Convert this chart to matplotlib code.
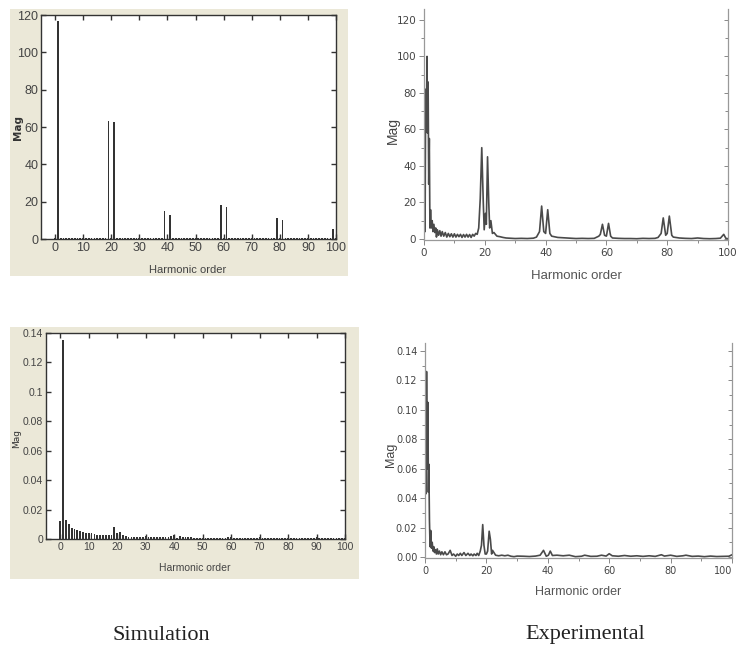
import matplotlib
matplotlib.use('Agg')
from matplotlib import pyplot as plt
from matplotlib.ticker import MultipleLocator

W, H = 737, 645
BEIGE = '#ebe8d8'
NARROW = ['Liberation Sans Narrow', 'Liberation Sans', 'DejaVu Sans']

harmonics = list(range(101))

sim_mag_top = [
    0.5, 117, 0.5, 0.5, 0.5, 0.5, 0.5, 0.5, 0.5, 0.5,
    0.5, 0.5, 0.5, 0.5, 0.5, 0.5, 0.5, 0.8, 0.5, 63,
    0.5, 62.5, 0.5, 0.5, 0.5, 0.5, 0.5, 0.5, 0.5, 0.5,
    0.5, 0.5, 0.5, 0.5, 0.5, 0.5, 0.5, 0.5, 0.5, 15,
    0.5, 13, 0.5, 0.5, 0.5, 0.5, 0.5, 0.5, 0.5, 0.5,
    0.5, 0.5, 0.5, 0.5, 0.5, 0.5, 0.5, 0.5, 0.5, 18,
    0.5, 17, 0.5, 0.5, 0.5, 0.5, 0.5, 0.5, 0.5, 0.5,
    0.5, 0.5, 0.5, 0.5, 0.5, 0.5, 0.5, 0.5, 0.5, 11,
    0.5, 10, 0.5, 0.5, 0.5, 0.5, 0.5, 0.5, 0.5, 0.5,
    0.5, 0.5, 0.5, 0.5, 0.5, 0.5, 0.5, 0.5, 0.5, 5.5,
    0.5,
]

sim_mag_bottom = [
    0.012, 0.135, 0.013, 0.0105, 0.0075, 0.0065, 0.0058, 0.0052, 0.0045, 0.004,
    0.004, 0.0038, 0.0032, 0.003, 0.003, 0.003, 0.0025, 0.0024, 0.0024, 0.008,
    0.004, 0.0045, 0.0025, 0.0018, 0.0016, 0.0015, 0.0015, 0.0015, 0.0015, 0.0015,
    0.0018, 0.0015, 0.0015, 0.0014, 0.0014, 0.0014, 0.0014, 0.0014, 0.0014, 0.002,
    0.003, 0.0006, 0.0018, 0.0016, 0.0014, 0.0012, 0.0011, 0.001, 0.001, 0.001,
    0.001, 0.001, 0.001, 0.001, 0.001, 0.001, 0.001, 0.001, 0.001, 0.0012,
    0.0016, 0.0009, 0.0009, 0.0009, 0.0009, 0.0009, 0.0009, 0.0009, 0.0009, 0.0009,
    0.0012, 0.0009, 0.0009, 0.0008, 0.0008, 0.0008, 0.0008, 0.0008, 0.0008, 0.0008,
    0.001, 0.0008, 0.0008, 0.0008, 0.0008, 0.0008, 0.0008, 0.0008, 0.0008, 0.0008,
    0.0012, 0.0008, 0.0008, 0.0008, 0.0008, 0.0008, 0.0008, 0.0008, 0.0008, 0.0008,
    0.0007,
]

exp_x_top = [
    0, 0.2, 0.35, 0.55, 0.75, 1.0, 1.15, 1.35, 1.55, 1.75, 1.95, 2.15, 2.4, 2.7, 2.95, 3.25, 3.55, 3.85,
    4.1, 4.4, 4.8, 5.2, 5.6, 6.0, 6.5, 7.0, 7.5, 8.0, 8.5, 9.0, 9.5, 10, 10.5, 11, 11.5, 12,
    12.5, 13, 13.5, 14, 14.5, 15, 15.5, 16, 16.5, 17, 17.5, 18, 18.5, 19, 19.5, 19.8, 20.2,
    20.5, 20.9, 21.3, 21.6, 22, 22.5, 23, 24, 25, 26, 27, 28, 30, 32, 34, 36, 37, 38, 38.7,
    39.4, 40, 40.7, 41.4, 42, 44, 46, 48, 50, 52, 54, 56, 57.5, 58, 58.7, 59.4, 60, 60.7,
    61.4, 62, 64, 66, 68, 70, 72, 74, 76, 77, 78, 78.7, 79.5, 80, 80.7, 81.5, 82, 84, 86,
    88, 90, 92, 94, 96, 97.5, 98.6, 99.3, 100,
]
exp_y_top = [
    0, 22, 4, 82, 62, 100, 58, 86, 30, 55, 6, 16, 6, 10, 4, 8, 3.5, 6,
    1, 5, 2, 4.5, 1.5, 4, 1.5, 3.5, 1, 3, 1.2, 2.8, 1, 2.8, 1, 2.5, 1.2, 2.5,
    0.8, 2.4, 1, 2.5, 1, 2.4, 0.8, 2.5, 1.5, 3, 2.5, 6, 22, 50, 20, 5, 14,
    8, 45, 20, 6, 10, 3, 3.5, 1.5, 1.2, 0.8, 0.5, 0.4, 0.2, 0.3, 0.2, 0.4, 1, 4, 18,
    4, 3, 16, 3, 1.5, 0.8, 0.6, 0.4, 0.2, 0.3, 0.2, 0.3, 1.5, 2.5, 8, 2, 1.5, 8.5,
    1.5, 0.5, 0.3, 0.2, 0.2, 0.1, 0.3, 0.2, 0.3, 0.8, 3, 11.5, 2, 3, 12.5, 2,
    1, 0.5, 0.3, 0.2, 0.5, 0.2, 0.1, 0.2, 0.4, 2.5, 0.3, 0.1,
]

exp_x_bottom = [
    0, 0.15, 0.35, 0.5, 0.7, 0.95, 1.1, 1.25, 1.45, 1.65, 1.85, 2.1, 2.35, 2.6, 2.85, 3.1, 3.4, 3.7,
    4.0, 4.3, 4.7, 5.1, 5.5, 6.0, 6.5, 7.0, 7.5, 8.2, 8.8, 9.3, 10, 10.5, 11, 11.5, 12, 12.7,
    13.3, 14, 14.6, 15, 15.6, 16, 16.6, 17, 17.5, 18, 18.4, 18.8, 19.2, 19.6, 20, 20.4, 20.9,
    21.3, 21.7, 22, 23, 24, 25, 26, 27, 28, 29, 30, 32, 34, 36, 37.5, 38.6, 39.5, 40.2, 40.8,
    41.5, 43, 45, 47, 49, 51, 52, 54, 56, 57.5, 59, 60, 61, 63, 65, 67, 69, 71, 73, 75,
    77, 78, 80, 82, 84, 85, 87, 89, 91, 93, 95, 97, 99, 100,
]
exp_y_bottom = [
    0, 0.113, 0.043, 0.126, 0.06, 0.105, 0.044, 0.063, 0.025, 0.007, 0.018, 0.006, 0.01, 0.004, 0.007, 0.003, 0.005, 0.002,
    0.0055, 0.002, 0.004, 0.0015, 0.0035, 0.0015, 0.0035, 0.0015, 0.002, 0.0045, 0.001, 0.002, 0.0005, 0.002, 0.001, 0.0025, 0.001, 0.003,
    0.001, 0.0025, 0.001, 0.002, 0.0008, 0.002, 0.001, 0.0025, 0.001, 0.004, 0.008, 0.022, 0.008, 0.002, 0.002, 0.004, 0.0175,
    0.012, 0.002, 0.0045, 0.0012, 0.0008, 0.0012, 0.0008, 0.0012, 0.0005, 0.0002, 0.0006, 0.0005, 0.0003, 0.0006, 0.0012, 0.0045, 0.0005, 0.0012, 0.004,
    0.001, 0.0012, 0.0008, 0.0012, 0.0002, 0.0005, 0.0012, 0.0004, 0.0005, 0.0012, 0.0006, 0.0022, 0.0008, 0.0005, 0.001, 0.0005, 0.0008, 0.0004, 0.0008, 0.0004,
    0.0015, 0.0006, 0.0012, 0.0004, 0.0008, 0.0012, 0.0004, 0.0006, 0.0002, 0.0006, 0.0003, 0.0004, 0.0005, 0.0015,
]


def px_rect(left, top, right, bottom):
    return [left / W, 1 - bottom / H, (right - left) / W, (bottom - top) / H]


def put_text(fig, x, y, s, **kw):
    fig.text(x / W, 1 - y / H, s, ha='center', va='center', **kw)


def sim_panel(fig, box, yvals, ylim, yticks, ylabels, size):
    ax = fig.add_axes(px_rect(*box))
    ax.bar(harmonics, yvals, width=0.62, color='#333333')
    ax.set_xlim(-5, 100)
    ax.set_ylim(*ylim)
    ax.set_xticks(range(0, 101, 10))
    ax.set_yticks(yticks)
    ax.set_yticklabels(ylabels)
    ax.tick_params(direction='in', top=True, right=True, length=3.5, width=1, color='#333333',
                   labelsize=size, labelcolor='#444444', pad=2)
    for lab in ax.get_xticklabels() + ax.get_yticklabels():
        lab.set_family(NARROW)
    for sp in ax.spines.values():
        sp.set_color('#333333')
        sp.set_linewidth(1.0)
    return ax


def exp_panel(fig, box, x, y, ylim, yticks, ylabels, yminor, size):
    ax = fig.add_axes(px_rect(*box))
    ax.plot(x, y, color='#4a4a4a', lw=1.2)
    ax.set_xlim(0, 100)
    ax.set_ylim(*ylim)
    ax.set_xticks(range(0, 101, 20))
    ax.set_yticks(yticks)
    ax.set_yticklabels(ylabels)
    ax.xaxis.set_minor_locator(MultipleLocator(10))
    ax.yaxis.set_minor_locator(MultipleLocator(yminor))
    ax.tick_params(which='major', length=3.5, width=0.7, color='#888888',
                   labelsize=size, labelcolor='#444444', pad=2)
    ax.tick_params(which='minor', length=2, width=0.7, color='#888888')
    ax.spines['top'].set_visible(False)
    for name in ['left', 'right', 'bottom']:
        ax.spines[name].set_color('#999999')
        ax.spines[name].set_linewidth(0.9)
    right = ax.secondary_yaxis('right')
    right.set_yticks(yticks)
    right.set_yticklabels([])
    right.yaxis.set_minor_locator(MultipleLocator(yminor))
    right.tick_params(which='major', direction='in', length=3, width=0.7, color='#888888')
    right.tick_params(which='minor', direction='in', length=2, width=0.7, color='#888888')
    right.spines['right'].set_visible(False)
    return ax


fig = plt.figure(figsize=(W / 100, H / 100), dpi=100, facecolor='white')

# beige backing of the two simulation screenshots
for l, t, r, b in [(10, 9, 348, 276), (10, 327, 359, 579)]:
    fig.patches.append(plt.Rectangle((l / W, 1 - b / H), (r - l) / W, (b - t) / H,
                                     transform=fig.transFigure, color=BEIGE, lw=0, zorder=-1))

sim_panel(fig, (41, 15, 336, 239), sim_mag_top, (0, 120),
          range(0, 121, 20), ['0', '20', '40', '60', '80', '100', '120'], 9)
sim_panel(fig, (46, 333, 345, 539), sim_mag_bottom, (0, 0.14),
          [0, 0.02, 0.04, 0.06, 0.08, 0.1, 0.12, 0.14],
          ['0', '0.02', '0.04', '0.06', '0.08', '0.1', '0.12', '0.14'], 7.5)

exp_panel(fig, (424, 9, 728, 240), exp_x_top, exp_y_top, (-0.6, 126),
          range(0, 121, 20), ['0', '20', '40', '60', '80', '100', '120'], 10, 7.5)
ax4 = exp_panel(fig, (425, 343, 732, 558), exp_x_bottom, exp_y_bottom, (-0.0007, 0.1454),
                [0, 0.02, 0.04, 0.06, 0.08, 0.10, 0.12, 0.14],
                ['0.00', '0.02', '0.04', '0.06', '0.08', '0.10', '0.12', '0.14'], 0.01, 7)
# the last tick label sits against the image edge
ax4.get_xticklabels()[-1].set_ha('right')

# axis titles
put_text(fig, 188, 270, 'Harmonic order', family=NARROW, fontsize=8, color='#444444')
put_text(fig, 18, 127, 'Mag', fontsize=7.5, fontweight='bold', rotation=90, color='#333333')
put_text(fig, 195, 568, 'Harmonic order', family=NARROW, fontsize=7.5, color='#444444')
put_text(fig, 17, 439, 'Mag', fontsize=6.5, rotation=90, color='#333333')
put_text(fig, 576, 276, 'Harmonic order', family=NARROW, fontsize=9.5, color='#555555')
put_text(fig, 393, 130, 'Mag', family='Liberation Sans', fontsize=10, rotation=90, color='#444444')
put_text(fig, 578, 592, 'Harmonic order', family=NARROW, fontsize=9, color='#555555')
put_text(fig, 391, 455, 'Mag', family='Liberation Sans', fontsize=9, rotation=90, color='#444444')

# panel captions
put_text(fig, 161, 635, 'Simulation', family='Liberation Serif', fontsize=16, color='#222222')
put_text(fig, 585, 635, 'Experimental', family='Liberation Serif', fontsize=16, color='#222222')

fig.savefig('out.png', dpi=100)
